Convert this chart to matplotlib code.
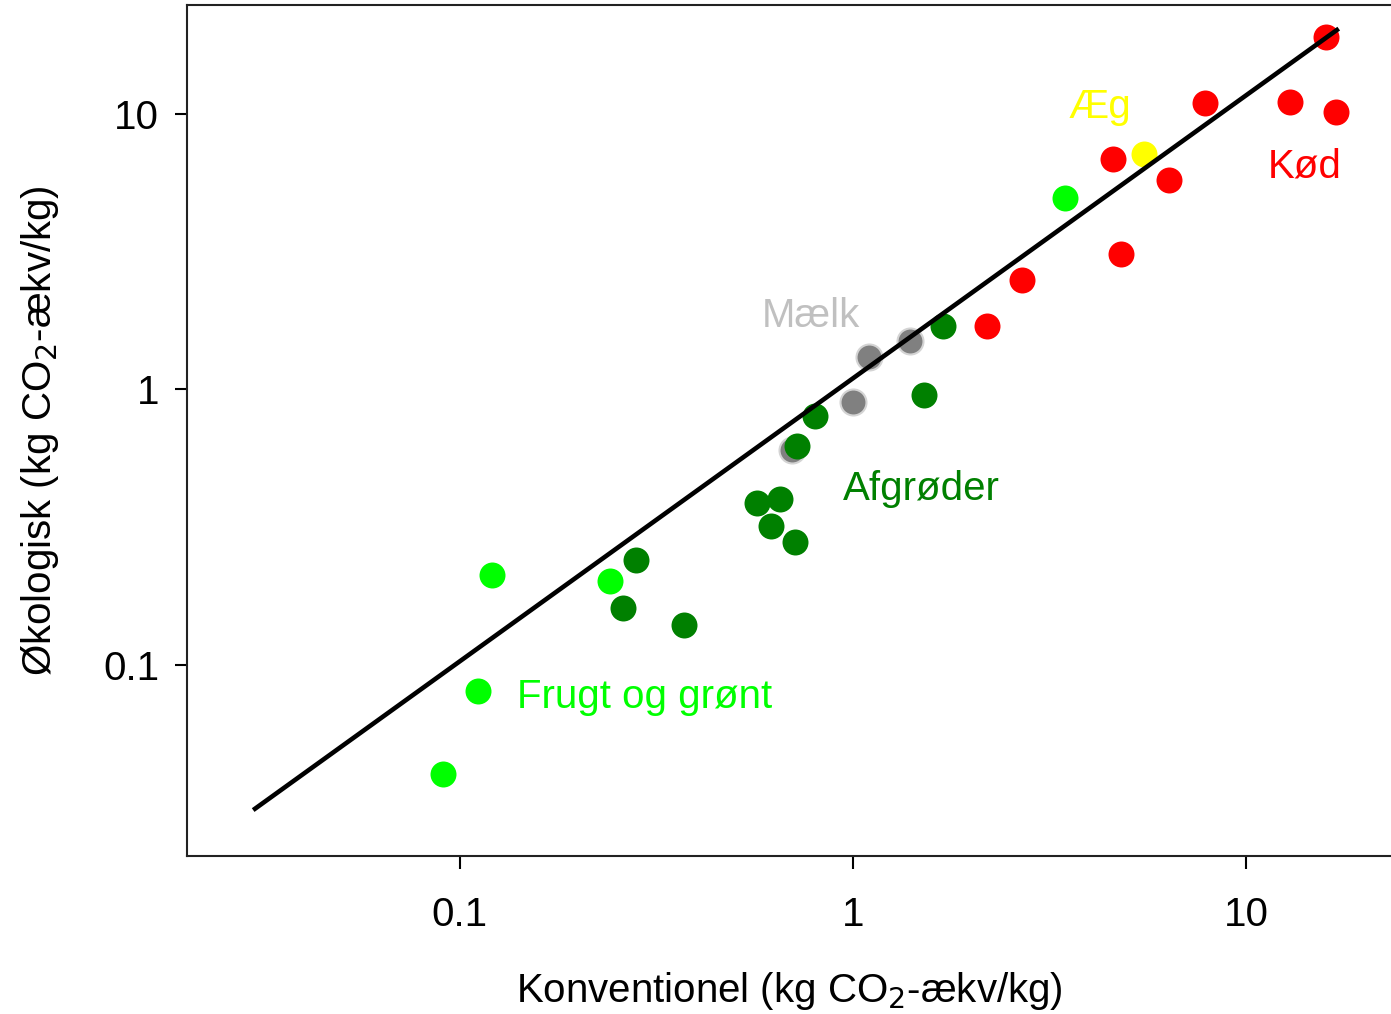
import matplotlib
matplotlib.use("Agg")
import matplotlib.pyplot as plt

plt.rcParams['font.family'] = ['Liberation Sans', 'DejaVu Sans']

# data (kg CO2-ækv/kg)
maelk_x = [0.70, 1.00, 1.10, 1.40]
maelk_y = [0.60, 0.90, 1.31, 1.50]

afgroder_x = [0.28, 0.26, 0.372, 0.57, 0.652, 0.618, 0.712, 0.72, 0.80, 1.516, 1.694]
afgroder_y = [0.241, 0.161, 0.140, 0.388, 0.401, 0.320, 0.280, 0.621, 0.798, 0.951, 1.695]

frugt_x = [0.1206, 0.2408, 0.111, 0.0905, 3.46]
frugt_y = [0.211, 0.202, 0.0804, 0.0402, 4.95]

aeg_x = [5.50]
aeg_y = [7.15]

kod_x = [2.19, 2.69, 4.59, 4.81, 6.37, 7.87, 12.94, 15.98, 16.95]
kod_y = [1.695, 2.49, 6.86, 3.10, 5.75, 10.96, 11.06, 19.05, 10.17]

fit_x = [0.0301, 17.04]
fit_y = [0.030, 20.2]

fig = plt.figure(figsize=(13.91, 10.14), dpi=100)
ax = fig.add_axes([0.1344, 0.1558, 0.8656, 0.8393])

size = 350
ax.scatter(maelk_x, maelk_y, s=size, color='#808080', edgecolors='#d4d4d4', linewidths=1.5, zorder=2)
ax.scatter(afgroder_x, afgroder_y, s=size, color='#008000', linewidths=0, zorder=3)
ax.scatter(frugt_x, frugt_y, s=size, color='#00ff00', linewidths=0, zorder=3)
ax.scatter(aeg_x, aeg_y, s=size, color='#ffff00', linewidths=0, zorder=3)
ax.scatter(kod_x, kod_y, s=size, color='#ff0000', linewidths=0, zorder=3)
ax.plot(fit_x, fit_y, color='black', linewidth=3.3, zorder=4)

fs = 29
ax.text(0.587, 1.68, 'Mælk', color='#c0c0c0', fontsize=fs)
ax.text(0.943, 0.395, 'Afgrøder', color='#008000', fontsize=fs)
ax.text(0.1396, 0.0698, 'Frugt og grønt', color='#00ff00', fontsize=fs)
ax.text(3.54, 9.67, 'Æg', color='#ffff00', fontsize=fs)
ax.text(11.38, 5.9, 'Kød', color='#ff0000', fontsize=fs)

ax.set_xscale('log')
ax.set_yscale('log')
ax.set_xlim(0.0202, 23.4)
ax.set_ylim(0.0202, 24.9)
ax.set_xticks([0.1, 1, 10])
ax.set_xticklabels(['0.1', '1', '10'])
ax.set_yticks([0.1, 1, 10])
ax.set_yticklabels(['0.1', '1', '10'])
ax.minorticks_off()
ax.tick_params(axis='x', direction='out', length=9, width=1.5, labelsize=fs, pad=20)
ax.tick_params(axis='y', direction='out', length=9, width=1.5, labelsize=fs, pad=11)

ax.spines['right'].set_visible(False)
for sp in ['left', 'bottom', 'top']:
    ax.spines[sp].set_linewidth(1.5)
    ax.spines[sp].set_color('#222222')

ax.set_xlabel('Konventionel (kg CO$_2$-ækv/kg)', fontsize=fs, labelpad=26)
ax.set_ylabel('Økologisk (kg CO$_2$-ækv/kg)', fontsize=fs, labelpad=30)

fig.savefig('out.png', dpi=100)
